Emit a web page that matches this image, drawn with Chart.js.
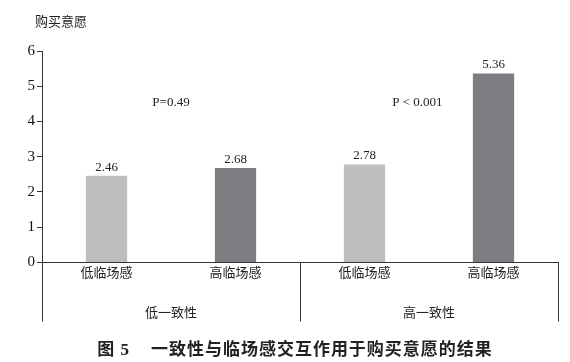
<!DOCTYPE html>
<html>
<head>
<meta charset="utf-8">
<script src="https://cdn.jsdelivr.net/npm/chart.js@4"></script>
<style>
	html, body { margin: 0; padding: 0; background: #fff; }
	#wrap { width: 570px; height: 362px; }
</style>
</head>
<body>
<div id="wrap"><canvas id="barChart"></canvas></div>
<script>
// data
var categories = ["低临场感", "高临场感", "低临场感", "高临场感"];
var values = [2.46, 2.68, 2.78, 5.36];
var groups = ["低一致性", "高一致性"];
var pTexts = ["P=0.49", "P < 0.001"];
var yTicks = ["0", "1", "2", "3", "4", "5", "6"];
var yTitle = "购买意愿";
var caption = "图 5    一致性与临场感交互作用于购买意愿的结果";

var LIGHT = "rgb(189, 190, 192)";
var DARK = "rgb(125, 126, 130)";
var AXIS = "#333";
var SERIF = "'Liberation Serif', 'Noto Sans CJK SC', serif";

// value labels, P notes, axis name, caption and the two-level x axis
var extras = {
	id: "extras",
	afterDatasetsDraw(chart) {
		let ctx = chart.ctx;
		let x = chart.scales.x;
		let y = chart.scales.y;
		let area = chart.chartArea;
		ctx.save();

		// numbers above the bars
		ctx.fillStyle = "#222";
		ctx.font = "13px " + SERIF;
		ctx.textAlign = "center";
		ctx.textBaseline = "bottom";
		chart.getDatasetMeta(0).data.forEach((bar, i) => {
			ctx.fillText(values[i].toFixed(2), bar.x, bar.y - 2);
		});

		// P values, one per group
		ctx.textBaseline = "middle";
		ctx.fillText(pTexts[0], x.getPixelForValue(0.5), y.getPixelForValue(4.55));
		ctx.fillText(pTexts[1], x.getPixelForValue(2.41), y.getPixelForValue(4.55));

		// name of the value axis, above it
		ctx.textAlign = "left";
		ctx.fillText(yTitle, area.left - 7, area.top - 28);

		// group dividers
		let bottom = area.bottom + 59;
		let mid = (x.getPixelForTick(1) + x.getPixelForTick(2)) / 2;
		ctx.strokeStyle = AXIS;
		ctx.lineWidth = 1;
		[area.left, mid, area.right].forEach((px) => {
			ctx.beginPath();
			ctx.moveTo(Math.round(px) + 0.5, area.bottom);
			ctx.lineTo(Math.round(px) + 0.5, bottom);
			ctx.stroke();
		});

		// group labels
		ctx.textAlign = "center";
		ctx.fillText(groups[0], (area.left + mid) / 2, area.bottom + 51);
		ctx.fillText(groups[1], (mid + area.right) / 2, area.bottom + 51);

		// figure caption
		ctx.font = "bold 17px " + SERIF;
		ctx.letterSpacing = "1px";
		ctx.fillText(caption, (area.left + area.right) / 2 - 5, area.bottom + 88);
		ctx.restore();
	}
};

var chart = new Chart(document.getElementById("barChart"), {
	type: "bar",
	data: {
		labels: categories,
		datasets: [
			{
				data: values,
				backgroundColor: [LIGHT, DARK, LIGHT, DARK],
				barPercentage: 0.32,
				categoryPercentage: 1
			}
		]
	},
	options: {
		responsive: true,
		maintainAspectRatio: false,
		animation: false,
		layout: { padding: { left: 0, right: 12, top: 51, bottom: 78 } },
		plugins: {
			legend: { display: false },
			tooltip: { enabled: false }
		},
		scales: {
			x: {
				grid: { display: false, drawTicks: false },
				border: { display: true, color: AXIS, width: 1 },
				ticks: {
					color: "#222",
					font: { family: SERIF, size: 13 },
					padding: 3
				}
			},
			y: {
				min: 0,
				max: 6,
				afterFit(scale) { scale.width = 42; },
				grid: { drawOnChartArea: false, drawTicks: true, tickLength: 5, color: AXIS },
				border: { display: true, color: AXIS, width: 1 },
				ticks: {
					stepSize: 1,
					color: "#111",
					font: { family: SERIF, size: 15 },
					padding: 2,
					callback: (v) => yTicks[v]
				}
			}
		}
	},
	plugins: [extras]
});
</script>
</body>
</html>
